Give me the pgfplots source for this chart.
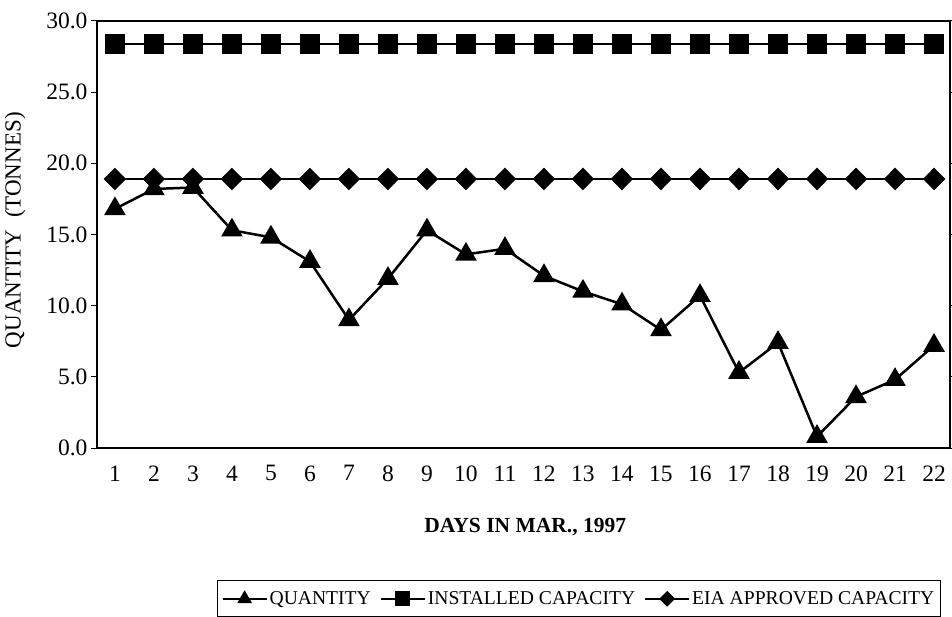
\documentclass[border=0pt]{standalone}
\usepackage{fontspec}
\setmainfont{Liberation Serif}
\usepackage{pgfplots}
\pgfplotsset{compat=1.18}
\begin{document}
\begin{tikzpicture}
\path[use as bounding box] (-97pt,-168pt) rectangle (855pt,448pt);
\begin{axis}[
  at={(0pt,0pt)}, anchor=south west,
  scale only axis, width=853pt, height=427pt,
  xmin=0.54, xmax=22.41, ymin=0, ymax=30,
  xtick={1,...,22}, ytick={0,5,...,30},
  yticklabel style={/pgf/number format/.cd, fixed, fixed zerofill, precision=1},
  /pgf/number format/assume math mode=true,
  tick label style={font=\fontsize{23.5}{27}\selectfont},
  xticklabel style={yshift=-8pt},
  major x tick style={draw=none},
  tick align=outside, major tick length=6pt,
  tick style={line width=1pt, black},
  axis line style={line width=1.3pt},
  xlabel={\textbf{DAYS IN MAR., 1997}},
  xlabel style={at={(axis description cs:0.502,-0.185)}, anchor=center, font=\fontsize{21.5}{25}\selectfont},
  ylabel={QUANTITY\ \ (TONNES)},
  ylabel style={at={(axis description cs:-0.0961,0.51)}, anchor=center, font=\fontsize{23}{27}\selectfont},
  legend style={at={(axis description cs:0.1407,-0.309)}, anchor=north west,
    legend columns=3, draw=black, line width=1.2pt,
    font=\fontsize{19.6}{24}\selectfont, inner xsep=4pt, inner ysep=9pt,
    /tikz/every even column/.append style={column sep=7pt}},
  legend cell align=left,
  legend image code/.code={\draw[mark repeat=2,mark phase=2, line width=2pt, mark size=6.5pt] plot coordinates {(0pt,0pt) (22pt,0pt) (44pt,0pt)};},
]
\addplot[black, line width=2.5pt, mark=triangle*, mark size=10pt, mark options={solid}] coordinates {
(1,16.8) (2,18.2) (3,18.3) (4,15.3) (5,14.8) (6,13.1) (7,9.0) (8,11.9) (9,15.3) (10,13.6) (11,14.0)
(12,12.1) (13,11.0) (14,10.1) (15,8.3) (16,10.7) (17,5.3) (18,7.4) (19,0.8) (20,3.6) (21,4.8) (22,7.2)};
\addlegendentry{QUANTITY}
\addplot[black, line width=2.5pt, mark=square*, mark size=8.5pt] coordinates {
(1,28.4) (2,28.4) (3,28.4) (4,28.4) (5,28.4) (6,28.4) (7,28.4) (8,28.4) (9,28.4) (10,28.4) (11,28.4)
(12,28.4) (13,28.4) (14,28.4) (15,28.4) (16,28.4) (17,28.4) (18,28.4) (19,28.4) (20,28.4) (21,28.4) (22,28.4)};
\addlegendentry{INSTALLED CAPACITY}
\addplot[black, line width=2.5pt, mark=diamond*, mark size=9.5pt, mark options={xscale=1.33}] coordinates {
(1,18.9) (2,18.9) (3,18.9) (4,18.9) (5,18.9) (6,18.9) (7,18.9) (8,18.9) (9,18.9) (10,18.9) (11,18.9)
(12,18.9) (13,18.9) (14,18.9) (15,18.9) (16,18.9) (17,18.9) (18,18.9) (19,18.9) (20,18.9) (21,18.9) (22,18.9)};
\addlegendentry{EIA APPROVED CAPACITY}
\end{axis}
\end{tikzpicture}
\end{document}
